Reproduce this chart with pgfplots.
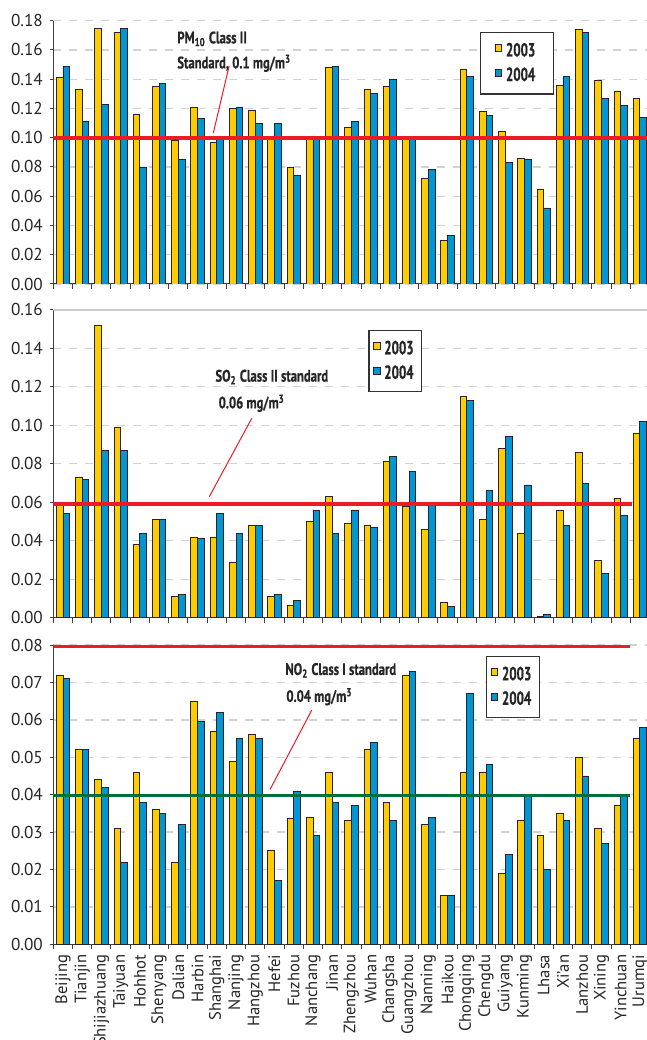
\documentclass[border=0pt]{standalone}
\usepackage{fontspec}
\setmainfont{PT Sans}
\newfontfamily\annfont[FakeStretch=0.76, FakeBold=0.6]{PT Sans Bold}
\newfontfamily\legfont[FakeStretch=0.68, FakeBold=0.6]{PT Sans Bold}
\usepackage{pgfplots}
\usepackage{pgfplotstable}
\pgfplotsset{compat=1.18}
\definecolor{yel}{HTML}{FFCC00}
\definecolor{blu}{HTML}{0096D6}
\definecolor{stdred}{HTML}{ED1C24}
\definecolor{stdgreen}{HTML}{00703C}

\pgfplotstableread{
i a b
0 0.141 0.149
1 0.133 0.111
2 0.175 0.123
3 0.172 0.175
4 0.116 0.080
5 0.135 0.137
6 0.098 0.085
7 0.121 0.113
8 0.097 0.099
9 0.120 0.121
10 0.119 0.110
11 0.100 0.110
12 0.080 0.074
13 0.100 0.099
14 0.148 0.149
15 0.107 0.111
16 0.133 0.130
17 0.135 0.140
18 0.099 0.099
19 0.072 0.078
20 0.030 0.033
21 0.147 0.142
22 0.118 0.115
23 0.104 0.083
24 0.086 0.085
25 0.065 0.052
26 0.136 0.142
27 0.174 0.172
28 0.139 0.127
29 0.132 0.122
30 0.127 0.114
}\pmdata

\pgfplotstableread{
i a b
0 0.060 0.054
1 0.073 0.072
2 0.152 0.087
3 0.099 0.087
4 0.038 0.044
5 0.051 0.051
6 0.011 0.012
7 0.042 0.041
8 0.042 0.054
9 0.029 0.044
10 0.048 0.048
11 0.011 0.012
12 0.0065 0.009
13 0.050 0.056
14 0.063 0.044
15 0.049 0.056
16 0.048 0.047
17 0.081 0.084
18 0.058 0.076
19 0.046 0.060
20 0.008 0.006
21 0.115 0.113
22 0.051 0.066
23 0.088 0.094
24 0.044 0.069
25 0.0005 0.002
26 0.056 0.048
27 0.086 0.070
28 0.030 0.023
29 0.062 0.053
30 0.096 0.102
}\sodata

\pgfplotstableread{
i a b
0 0.072 0.071
1 0.052 0.052
2 0.044 0.042
3 0.031 0.022
4 0.046 0.038
5 0.036 0.035
6 0.022 0.032
7 0.065 0.0595
8 0.057 0.062
9 0.049 0.055
10 0.056 0.055
11 0.025 0.017
12 0.0336 0.041
13 0.034 0.029
14 0.046 0.038
15 0.033 0.037
16 0.052 0.054
17 0.038 0.033
18 0.072 0.073
19 0.032 0.034
20 0.013 0.013
21 0.046 0.067
22 0.046 0.048
23 0.019 0.024
24 0.033 0.040
25 0.029 0.020
26 0.035 0.033
27 0.050 0.045
28 0.031 0.027
29 0.037 0.040
30 0.055 0.058
}\nodata

\tikzset{ann/.style={anchor=base west, inner sep=0pt, font=\annfont\fontsize{8.3}{10}\selectfont, text=black!85}}

\pgfplotsset{
 panel/.style={
  scale only axis, width=296.85pt,
  xmin=-0.5, xmax=30.37, ymin=0,
  axis lines*=left,
  axis line style={black!75, line width=0.5pt},
  ybar=0pt, bar width=3.35pt,
  xtick={0,...,30},
  minor xtick={-0.5,0.5,...,29.5},
  major x tick style={draw=none},
  minor x tick style={black!75, line width=0.5pt},
  tick align=outside,
  major tick length=1.7pt, minor tick length=2.5pt,
  ytick style={black!75, line width=0.5pt},
  ymajorgrids,
  major grid style={gray!35, line width=0.7pt, dash pattern=on 4pt off 4pt},
  scaled y ticks=false,
  /pgf/number format/fixed,
  /pgf/number format/fixed zerofill,
  /pgf/number format/precision=2,
  /pgf/number format/assume math mode=true,
  tick label style={font=\fontsize{8.6}{10}\selectfont, text=black!85},
  legend style={draw=black!80, line width=0.6pt, fill=white,
    font=\legfont\fontsize{9.5}{11}\selectfont, text=black!85,
    anchor=north west, cells={anchor=west}, row sep=0pt},
 },
 bar2003/.style={fill=yel, draw=black!85, line width=0.4pt, bar shift=-1.675pt,
   legend image code/.code={\draw[fill=yel, draw=black!85, line width=0.4pt] (0pt,-0.3pt) rectangle (3.3pt,3.3pt);}},
 bar2004/.style={fill=blu, draw=black!85, line width=0.4pt, bar shift=1.675pt,
   legend image code/.code={\draw[fill=blu, draw=black!85, line width=0.4pt] (0pt,-0.3pt) rectangle (3.3pt,3.3pt);}},
}

\begin{document}
\begin{tikzpicture}
\useasboundingbox (0,0) rectangle (323.5pt,520pt);

% PM10
\begin{axis}[panel, at={(26.65pt,378pt)}, height=131.65pt, ymax=0.18,
  ytick={0,0.02,0.04,0.06,0.08,0.10,0.12,0.14,0.16,0.18},
  xticklabels={},
  legend style={at={(rel axis cs:0.7187,0.956)}, inner xsep=7pt, inner ysep=3pt}]
\addplot[bar2003] table[x=i,y=a]{\pmdata};
\addplot[bar2004] table[x=i,y=b]{\pmdata};
\addplot[sharp plot, stdred, line width=2pt, forget plot] coordinates {(-0.5,0.1) (30.37,0.1)};
\legend{2003,2004}
\node[ann] at (axis cs:5.93,0.1645) {PM\textsubscript{10} Class II};
\node[ann] at (axis cs:5.93,0.1474) {Standard, 0.1 mg/m\textsuperscript{3}};
\draw[stdred, line width=0.5pt] (axis cs:8.64,0.149) -- (axis cs:7.82,0.1032);
\end{axis}

% SO2
\begin{axis}[panel, at={(26.65pt,211.1pt)}, height=154pt, ymax=0.16,
  ytick={0,0.02,0.04,0.06,0.08,0.10,0.12,0.14,0.16},
  xticklabels={},
  legend style={at={(rel axis cs:0.5306,0.934)}, inner xsep=2pt, inner ysep=3pt}]
\addplot[bar2003] table[x=i,y=a]{\sodata};
\addplot[bar2004] table[x=i,y=b]{\sodata};
\addplot[sharp plot, stdred, line width=1.7pt, forget plot] coordinates {(-0.5,0.0592) (29.6,0.0592)};
\legend{2003,2004}
\draw[gray!40, line width=1pt] (rel axis cs:0,1) -- (rel axis cs:1,1);
\node[ann] at (axis cs:7.91,0.1227) {SO\textsubscript{2} Class II standard};
\node[ann] at (axis cs:8.08,0.1088) {0.06 mg/m\textsuperscript{3}};
\draw[stdred, line width=0.5pt] (axis cs:9.82,0.1036) -- (axis cs:7.61,0.0629);
\end{axis}

% NO2
\begin{axis}[panel, at={(26.65pt,47.85pt)}, height=149.65pt, ymax=0.08,
  ytick={0,0.01,0.02,0.03,0.04,0.05,0.06,0.07,0.08},
  xticklabels={Beijing,Tianjin,Shijiazhuang,Taiyuan,Hohhot,Shenyang,Dalian,Harbin,Shanghai,Nanjing,Hangzhou,Hefei,Fuzhou,Nanchang,Jinan,Zhengzhou,Wuhan,Changsha,Guangzhou,Nanning,Haikou,Chongqing,Chengdu,Guiyang,Kunming,Lhasa,Xi'an,Lanzhou,Xining,Yinchuan,Urumqi},
  x tick label style={rotate=90, anchor=east, font=\fontsize{8.3}{10}\selectfont},
  legend style={at={(rel axis cs:0.7288,0.963)}, inner xsep=2pt, inner ysep=3pt}]
\addplot[bar2003] table[x=i,y=a]{\nodata};
\addplot[bar2004] table[x=i,y=b]{\nodata};
\addplot[sharp plot, stdred, line width=1.6pt, forget plot] coordinates {(-0.6,0.0797) (29.5,0.0797)};
\addplot[sharp plot, stdgreen, line width=1.7pt, forget plot] coordinates {(-0.5,0.0398) (29.5,0.0398)};
\legend{2003,2004}
\node[ann] at (axis cs:11.55,0.0720) {NO\textsubscript{2} Class I standard};
\node[ann] at (axis cs:11.60,0.0648) {0.04 mg/m\textsuperscript{3}};
\draw[stdred, line width=0.5pt] (axis cs:12.94,0.0626) -- (axis cs:10.77,0.0414);
\end{axis}
\end{tikzpicture}
\end{document}
